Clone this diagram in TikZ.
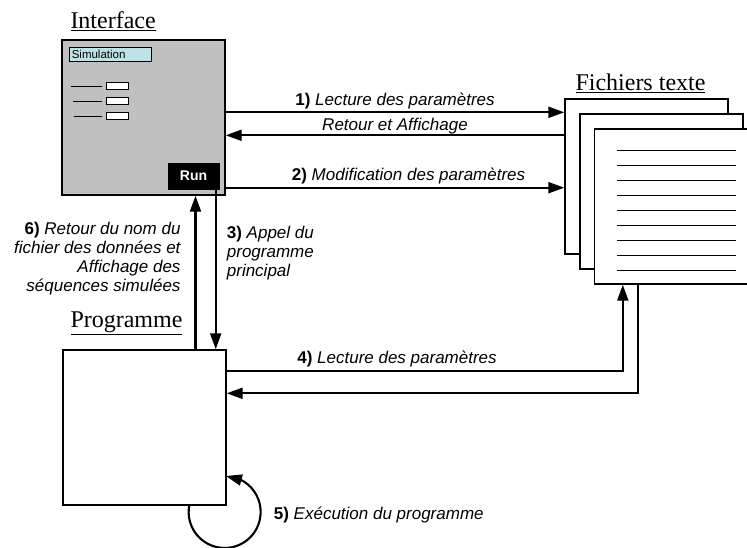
\documentclass[tikz,border=0pt]{standalone}
\usepackage{fontspec}
\setmainfont{Liberation Serif}
\setsansfont{Liberation Sans}
\usetikzlibrary{arrows.meta,positioning,calc,bending}
\definecolor{ifgray}{RGB}{192,192,192}
\definecolor{simcyan}{RGB}{190,226,230}
\newcommand{\lblnum}[1]{\textup{\bfseries #1)}}

\begin{document}
\begin{tikzpicture}[
    x=1pt,y=-1pt,
    every node/.style={font=\sffamily\fontsize{17}{19}\selectfont\itshape},
    box/.style={
        draw,line width=1.4pt,inner sep=0pt,
        minimum width=163pt,minimum height=155pt
    },
    sheet/.style={box,fill=white},
    title/.style={font=\rmfamily\fontsize{24}{28}\selectfont,inner sep=0pt},
    field/.style={
        draw,fill=simcyan,line width=1pt,inner xsep=2pt,inner ysep=0pt,
        minimum height=14pt,text width=78pt,align=left,
        font=\sffamily\fontsize{11.5}{13}\selectfont
    },
    entry/.style={draw,fill=white,line width=1.2pt,minimum width=22pt,minimum height=7pt,inner sep=0pt},
    runbtn/.style={
        fill=black,text=white,inner sep=0pt,
        minimum width=52pt,minimum height=27pt,
        font=\sffamily\bfseries\fontsize{14}{16}\selectfont
    },
    arr/.style={-{Triangle[length=16pt,width=11pt]},line width=2.1pt},
    lbl/.style={inner sep=0pt}
]
\useasboundingbox (0,0) rectangle (747,547);
\clip (0,0) rectangle (747,547);

% boxes
\node[box,fill=ifgray] (iface) at (143.5,117.5) {};
\node[box] (prog) at (144.5,427.5) {};
\node[sheet] (sheet1) at (646.5,176.5) {};
\node[sheet] (sheet2) at ($(sheet1)+(15,15)$) {};
\node[sheet] (sheet3) at ($(sheet1)+(29.5,30)$) {};

% titles
\node[title,above right=8pt and 9pt of iface.north west] (ifacetitle) {\underline{Interface}};
\node[title,above right=5pt and 11pt of sheet1.north west] (filestitle) {\underline{Fichiers texte}};
\node[title,above right=14pt and 8pt of prog.north west] (progtitle) {\underline{Programme}};

% interface widgets
\node[field,anchor=north west] (simfield) at ([xshift=8pt,yshift=-8pt]iface.north west) {Simulation};
\foreach \k/\dx in {0/10,1/12,2/13} {
    \node[entry] (entry\k) at ([xshift=56pt,yshift={-(47+15*\k)*1pt}]iface.north west) {};
    \draw[line width=1.2pt] ([xshift=\dx pt,yshift={-(47+15*\k)*1pt}]iface.north west) -- ([xshift=-4pt]entry\k.west);
}
\node[runbtn,anchor=south east] (run) at ([xshift=-6pt,yshift=6pt]iface.south east) {Run};

% lines of the text file
\foreach \k in {0,...,8}
    \draw[line width=1.2pt] ([xshift=23pt,yshift={-(22+15*\k)*1pt}]sheet3.north west) -- ++(119,0);

% connectors
\draw[arr] ([yshift=-73pt]iface.north east) -- ([yshift=-73pt]iface.north east -| sheet1.west)
    node[lbl,midway,anchor=base,yshift=7pt] {\lblnum{1} Lecture des paramètres};
\draw[arr] ([yshift=-96pt]iface.north east -| sheet1.west) -- ([yshift=-96pt]iface.north east)
    node[lbl,midway,anchor=base,yshift=5pt] {Retour et Affichage};
\draw[arr] ([yshift=8pt]iface.south east) -- ([yshift=8pt]iface.south east -| sheet1.west)
    node[lbl,pos=0.54,anchor=base,yshift=7pt] {\lblnum{2} Modification des paramètres};
\draw[arr] ([xshift=-4pt]run.south east) -- ([xshift=-4pt]run.south east |- prog.north);
\node[lbl,below right=36pt and 7pt of run.south east,align=left] (lblcall)
    {\lblnum{3} Appel du\\programme\\principal};
\draw[arr] ([xshift=51pt]prog.north) -- ([xshift=51pt]prog.north |- iface.south);
\node[lbl,below left=26pt and 45pt of iface.south east,align=right] (lblreturn)
    {\lblnum{6} Retour du nom du\\fichier des données et\\Affichage des\\séquences simulées};
\draw[arr] ([yshift=-22pt]prog.north east) -| ([xshift=29pt]sheet3.south west)
    node[lbl,pos=0.215,anchor=base,yshift=8pt] {\lblnum{4} Lecture des paramètres};
\draw[arr] ([xshift=44pt]sheet3.south west) |- ([yshift=-44pt]prog.north east);
\draw[arr] ([xshift=-37.5pt]prog.south east) arc[start angle=170,end angle=448,radius=36pt];
\node[lbl,anchor=base west] (lblexec) at ([xshift=47pt,yshift=-14pt]prog.south east)
    {\lblnum{5} Exécution du programme};
\end{tikzpicture}
\end{document}
